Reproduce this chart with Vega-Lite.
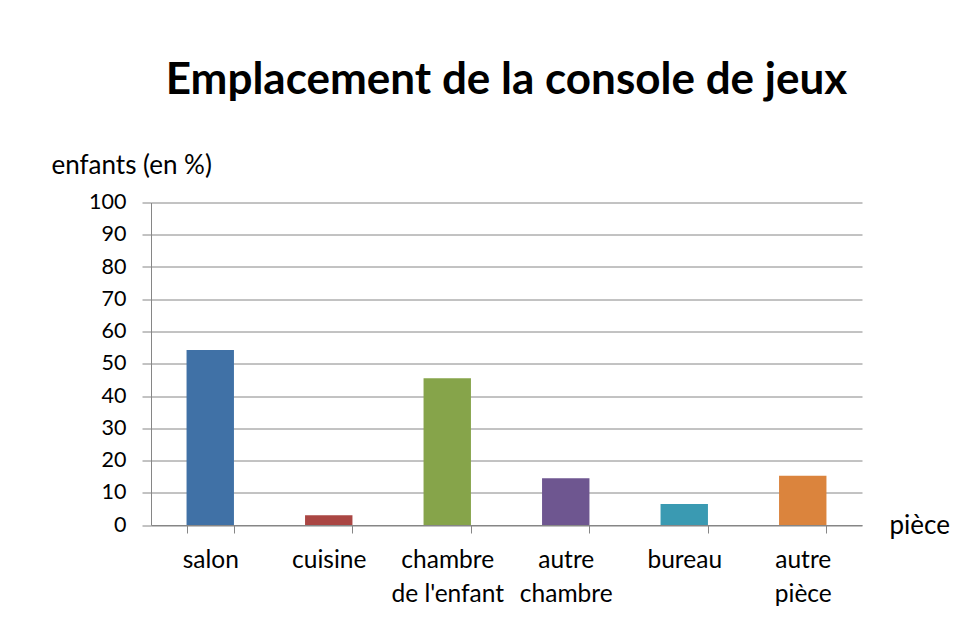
{
  "$schema": "https://vega.github.io/schema/vega-lite/v6.json",
  "width": 711,
  "height": 322.5,
  "autosize": {"type": "none"},
  "padding": {"left": 151, "top": 202.5, "right": 114, "bottom": 101},
  "background": "white",
  "title": {
    "text": "Emplacement de la console de jeux",
    "font": "Lato",
    "fontSize": 44,
    "fontWeight": "bold",
    "color": "#000000",
    "anchor": "middle",
    "offset": 49
  },
  "data": {
    "values": [
      {"piece": "salon", "valeur": 54.3},
      {"piece": "cuisine", "valeur": 3.0},
      {"piece": "chambre de l'enfant", "valeur": 45.5},
      {"piece": "autre chambre", "valeur": 14.5},
      {"piece": "bureau", "valeur": 6.5},
      {"piece": "autre pièce", "valeur": 15.3}
    ]
  },
  "mark": {"type": "bar"},
  "encoding": {
    "x": {
      "field": "piece",
      "type": "nominal",
      "sort": null,
      "scale": {"paddingInner": 0.6, "paddingOuter": 0.3},
      "axis": {
        "title": "pièce",
        "titleFont": "Lato",
        "titleFontSize": 26,
        "titleFontWeight": "normal",
        "titleColor": "#000000",
        "titleAlign": "left",
        "titleBaseline": "alphabetic",
        "titleX": 738,
        "titleY": 8.5,
        "labelAngle": 0,
        "labelFont": "Lato",
        "labelFontSize": 24.5,
        "labelColor": "#000000",
        "labelBaseline": "alphabetic",
        "labelPadding": 34,
        "labelLineHeight": 34,
        "labelExpr": "datum.label == \"chambre de l'enfant\" ? ['chambre', \"de l'enfant\"] : datum.label == 'autre chambre' ? ['autre', 'chambre'] : datum.label == 'autre pièce' ? ['autre', 'pièce'] : datum.label",
        "tickBand": "extent",
        "tickSize": 8,
        "tickColor": "#868686",
        "domainColor": "#868686",
        "grid": false
      }
    },
    "y": {
      "field": "valeur",
      "type": "quantitative",
      "scale": {"domain": [0, 100], "nice": false},
      "axis": {
        "title": "enfants (en %)",
        "titleFont": "Lato",
        "titleFontSize": 26,
        "titleFontWeight": "normal",
        "titleColor": "#000000",
        "titleAngle": 0,
        "titleAlign": "left",
        "titleBaseline": "alphabetic",
        "titleX": -100,
        "titleY": -29.5,
        "values": [0, 10, 20, 30, 40, 50, 60, 70, 80, 90, 100],
        "labelFont": "Lato",
        "labelFontSize": 21.5,
        "labelColor": "#000000",
        "labelPadding": 16,
        "tickSize": 9,
        "tickColor": "#868686",
        "domainColor": "#868686",
        "gridColor": "#868686",
        "gridWidth": 1,
        "grid": true
      }
    },
    "color": {
      "field": "piece",
      "type": "nominal",
      "sort": null,
      "scale": {
        "domain": ["salon", "cuisine", "chambre de l'enfant", "autre chambre", "bureau", "autre pièce"],
        "range": ["#4071A6", "#AA4643", "#86A44A", "#6E5690", "#3A9AB2", "#DB843D"]
      },
      "legend": null
    }
  },
  "config": {
    "view": {"stroke": null},
    "axis": {"domainWidth": 1, "tickWidth": 1}
  }
}
